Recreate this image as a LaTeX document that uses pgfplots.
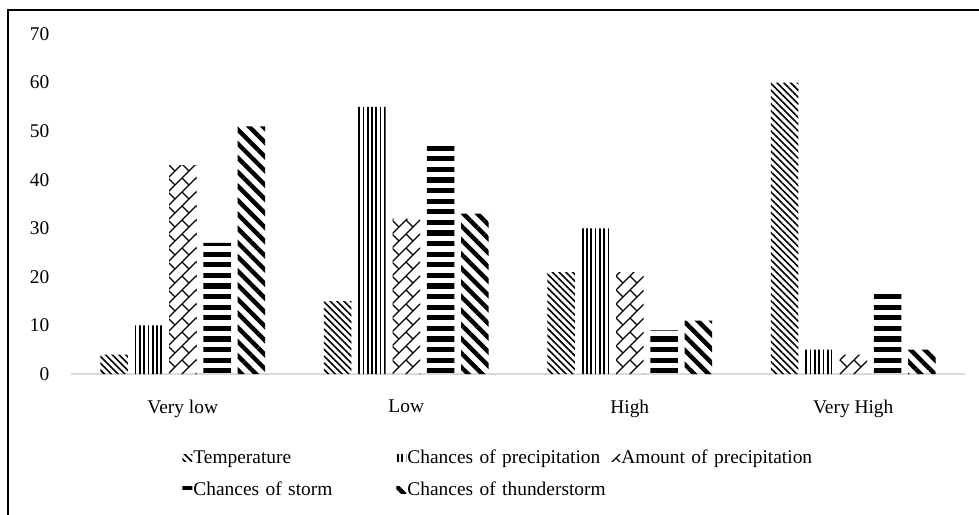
\documentclass[border=0pt]{standalone}
\usepackage{fontspec}
\setmainfont{Liberation Serif}
\usepackage{pgfplots}
\pgfplotsset{compat=1.18}
\usetikzlibrary{patterns,patterns.meta}

\newcommand\fsz{\fontsize{9.7}{11.6}\selectfont}

% diagonal brick / zig-zag style fill for "Amount of precipitation"
\tikzdeclarepattern{
  name=zigbrick,
  type=uncolored,
  bottom left={(-.1pt,-.1pt)},
  top right={(7.1pt,7.1pt)},
  tile size={(7pt,7pt)},
  code={
    \draw[line width=0.55pt] (0pt,0pt) -- (7pt,7pt);
    \draw[line width=0.55pt] (0pt,7pt) -- (3.5pt,3.5pt);
  }
}
% thick horizontal stripes (storm)
\tikzdeclarepattern{
  name=hstripes,
  type=uncolored,
  bottom left={(-.2pt,0pt)},
  top right={(2.2pt,5.3pt)},
  tile size={(2pt,5.3pt)},
  code={\fill (-.2pt,1.35pt) rectangle (2.2pt,3.95pt);}
}
% thin vertical stripes (precipitation)
\tikzdeclarepattern{
  name=vstripes,
  type=uncolored,
  bottom left={(0pt,-.2pt)},
  top right={(2.15pt,2.2pt)},
  tile size={(2.15pt,2pt)},
  code={\fill (0.65pt,-.2pt) rectangle (1.5pt,2.2pt);}
}

\begin{document}
\begin{tikzpicture}[font=\fsz]
  % page = 979 x 514 px at 0.5pt per px, origin at the axis corner
  \useasboundingbox (-35.5pt,-70pt) rectangle (454pt,187pt);
  \draw[line width=1pt] (-31.5pt,-71pt) -- (-31.5pt,182pt) -- (455pt,182pt);

  \begin{axis}[
    at={(0pt,0pt)}, anchor=south west,
    width=447pt, height=170pt, scale only axis,
    ybar=3.4pt, bar width=13.75pt,
    xmin=-0.5, xmax=3.5,
    ymin=0, ymax=70,
    xtick={0,1,2,3},
    xticklabels={Very low,Low,High,Very High},
    ytick={0,10,...,70},
    major tick length=0pt,
    axis x line*=bottom,
    axis y line*=left,
    x axis line style={-, draw=black!15, line width=0.6pt},
    y axis line style={draw=none},
    /pgf/number format/assume math mode=true,
    tick label style={font=\fsz},
    yticklabel style={xshift=-7.3pt},
    xticklabel style={yshift=-9.5pt},
    clip=false,
    legend columns=3,
    legend style={
      draw=none, fill=none, inner sep=0pt,
      at={(0.1242,-0.2206)}, anchor=north west,
      font=\fsz,
      column sep=0pt, row sep=7pt,
      nodes={inner xsep=0.5pt, inner ysep=0pt, text height=7pt, text depth=2pt,
             text width=101pt, align=left},
    },
    legend image code/.code={
      \fill[#1] (0pt,-1.75pt) rectangle (5pt,1.75pt);
    },
  ]
    \addplot[draw=none, pattern={Lines[angle=-45,distance=2.4pt,line width=0.8pt]}, pattern color=black]
      coordinates {(0,4) (1,15) (2,21) (3,60)};
    \addlegendentry{Temperature}

    \addplot[draw=none, pattern=vstripes, pattern color=black]
      coordinates {(0,10) (1,55) (2,30) (3,5)};
    \addlegendentry{Chances of precipitation}

    \addplot[draw=none, pattern=zigbrick, pattern color=black]
      coordinates {(0,43) (1,32) (2,21) (3,4)};
    \addlegendentry{Amount of precipitation}

    \addplot[draw=none, pattern=hstripes, pattern color=black]
      coordinates {(0,27) (1,47) (2,9) (3,17)};
    \addlegendentry{Chances of storm}

    \addplot[draw=none, pattern={Lines[angle=-45,distance=5pt,line width=2.2pt]}, pattern color=black]
      coordinates {(0,51) (1,33) (2,11) (3,5)};
    \addlegendentry{Chances of thunderstorm}
  \end{axis}
\end{tikzpicture}
\end{document}
